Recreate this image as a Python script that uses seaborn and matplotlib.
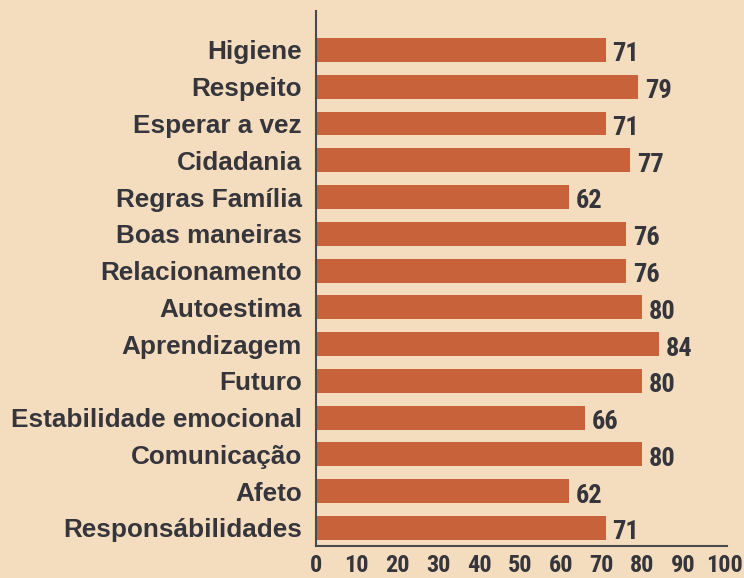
import pandas as pd
import seaborn as sns
import matplotlib.pyplot as plt
from matplotlib import font_manager

categories = [
    "Higiene", "Respeito", "Esperar a vez", "Cidadania", "Regras Família",
    "Boas maneiras", "Relacionamento", "Autoestima", "Aprendizagem", "Futuro",
    "Estabilidade emocional", "Comunicação", "Afeto", "Responsábilidades",
]
values = [71, 79, 71, 77, 62, 76, 76, 80, 84, 80, 66, 80, 62, 71]
x_ticks = [0, 10, 20, 30, 40, 50, 60, 70, 80, 90, 100]

bg = "#F4DDBE"
bar_color = "#C8623A"
text_color = "#35353B"

sns.set_theme(style="white")
plt.rcParams["font.family"] = ["Liberation Sans", "DejaVu Sans"]

# pick a condensed face for the numbers if one is installed
names = {f.name for f in font_manager.fontManager.ttflist}
num_font = dict(family=["DejaVu Sans"], fontstretch="condensed")
for cand in ["Roboto Condensed", "Liberation Sans Narrow", "Open Sans Condensed"]:
    if cand in names:
        num_font = dict(family=[cand, "DejaVu Sans"], fontstretch="normal")
        break

df = pd.DataFrame({"categoria": categories, "valor": values})

fig = plt.figure(figsize=(7.44, 5.78), dpi=100, facecolor=bg)
ax = fig.add_axes([0.4247, 0.0554, 0.5523, 0.9256])
ax.set_facecolor(bg)

sns.barplot(data=df, x="valor", y="categoria", color=bar_color,
            saturation=1, width=0.65, edgecolor="none", linewidth=0, ax=ax)

for i, v in enumerate(values):
    ax.text(v + 1.6, i + 0.12, str(v), ha="left", va="center",
            fontsize=19, fontweight="bold", color=text_color, **num_font)

ax.set_xlim(0, 100.7)
ax.set_ylim(13.49, -1.06)
ax.set_xticks(x_ticks)
ax.set_xticklabels([str(t) for t in x_ticks], fontsize=17.5, fontweight="bold",
                   color=text_color, **num_font)
ax.tick_params(axis="y", labelsize=18.8, labelcolor=text_color, length=0, pad=10)
for lbl in ax.get_yticklabels():
    lbl.set_fontweight("bold")
ax.tick_params(axis="x", length=0, pad=6)
ax.set_xlabel("")
ax.set_ylabel("")

for side in ["top", "right"]:
    ax.spines[side].set_visible(False)
for side in ["left", "bottom"]:
    ax.spines[side].set_color("#4A4A4A")
    ax.spines[side].set_linewidth(1.5)

fig.savefig("out.png", dpi=100, facecolor=bg)
